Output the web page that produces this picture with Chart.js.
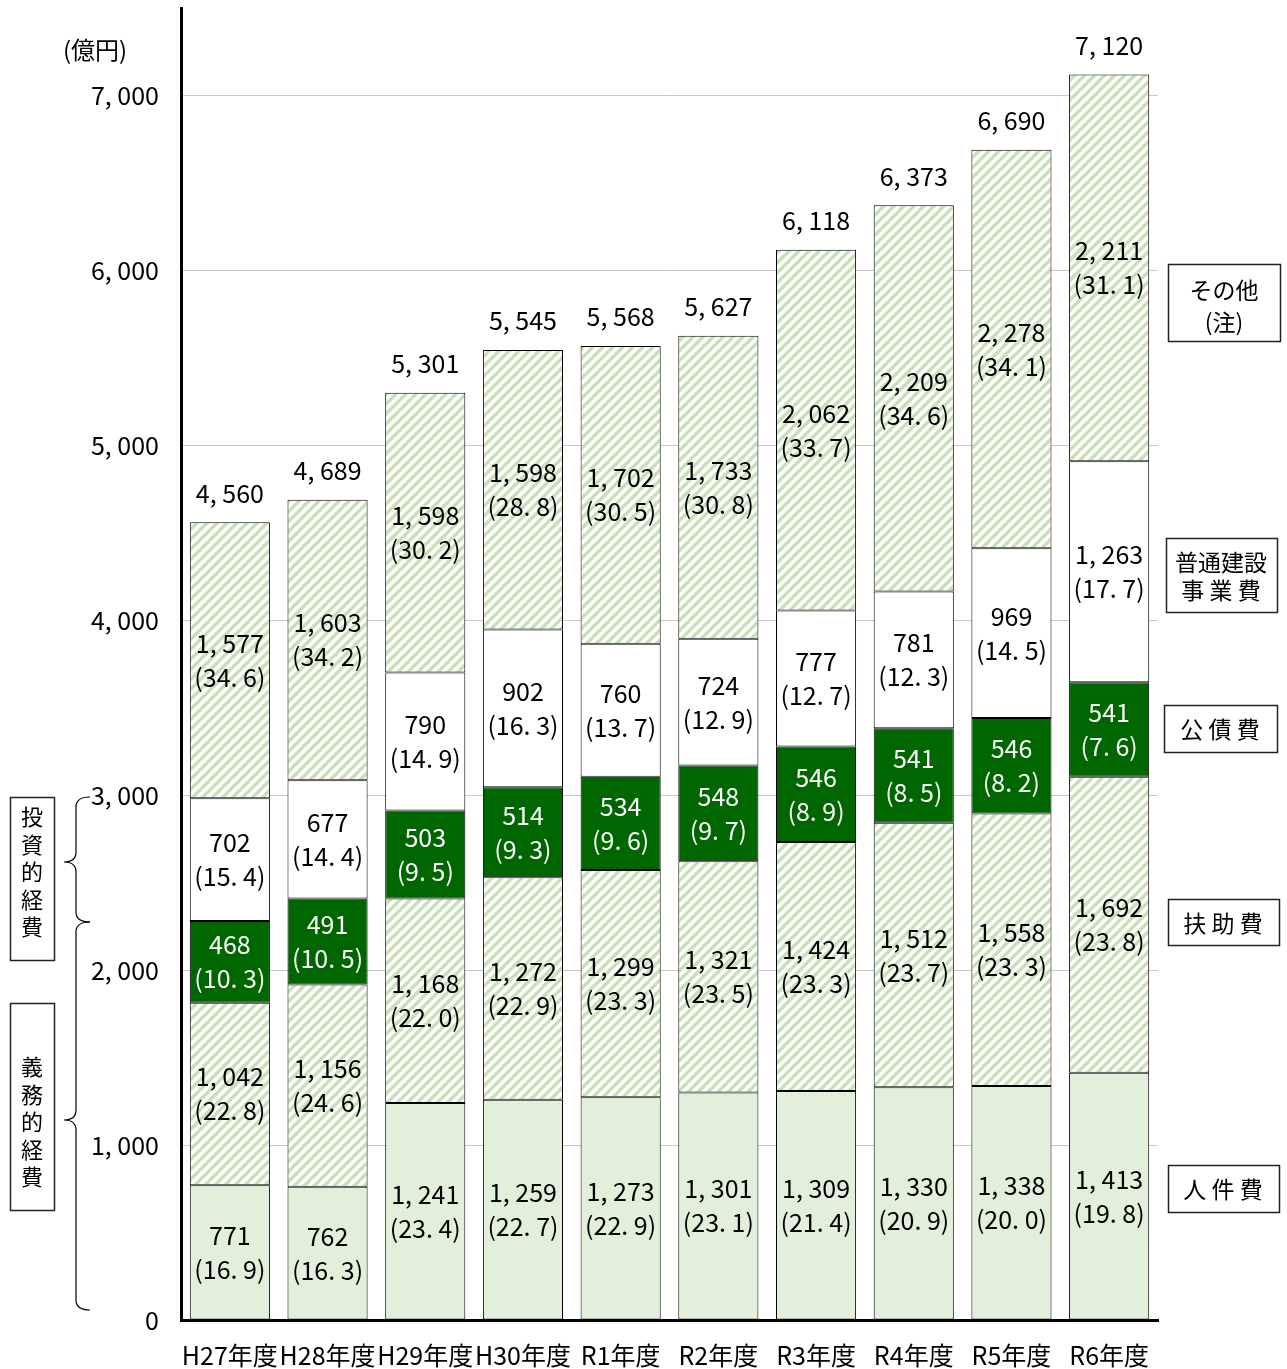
<!DOCTYPE html>
<html>
<head>
<meta charset="utf-8">
<script src="https://cdn.jsdelivr.net/npm/chart.js@4.4.1/dist/chart.umd.min.js"></script>
<style>
html,body{margin:0;padding:0;background:#fff;}
#wrap{width:1287px;height:1369px;position:relative;}
</style>
</head>
<body>
<div id="wrap"><canvas id="c" width="1287" height="1369"></canvas></div>
<script>
const categories = ['H27年度','H28年度','H29年度','H30年度','R1年度','R2年度','R3年度','R4年度','R5年度','R6年度'];
const personnel = [771, 762, 1241, 1259, 1273, 1301, 1309, 1330, 1338, 1413];
const assistance = [1042, 1156, 1168, 1272, 1299, 1321, 1424, 1512, 1558, 1692];
const debt = [468, 491, 503, 514, 534, 548, 546, 541, 546, 541];
const construction = [702, 677, 790, 902, 760, 724, 777, 781, 969, 1263];
const other = [1577, 1603, 1598, 1598, 1702, 1733, 2062, 2209, 2278, 2211];
const personnelPct = [16.9, 16.3, 23.4, 22.7, 22.9, 23.1, 21.4, 20.9, 20.0, 19.8];
const assistancePct = [22.8, 24.6, 22.0, 22.9, 23.3, 23.5, 23.3, 23.7, 23.3, 23.8];
const debtPct = [10.3, 10.5, 9.5, 9.3, 9.6, 9.7, 8.9, 8.5, 8.2, 7.6];
const constructionPct = [15.4, 14.4, 14.9, 16.3, 13.7, 12.9, 12.7, 12.3, 14.5, 17.7];
const otherPct = [34.6, 34.2, 30.2, 28.8, 30.5, 30.8, 33.7, 34.6, 34.1, 31.1];
const totals = [4560, 4689, 5301, 5545, 5568, 5627, 6118, 6373, 6690, 7120];
const seriesNames = ['人件費','扶助費','公債費','普通建設事業費','その他'];
const yTickStep = 1000;

const FONT = '"Noto Sans CJK JP", "Noto Sans", sans-serif';

function hatch() {
  const s = 10;
  const p = document.createElement('canvas');
  p.width = s; p.height = s;
  const g = p.getContext('2d');
  g.fillStyle = '#ffffff';
  g.fillRect(0, 0, s, s);
  g.strokeStyle = '#c6e2b4';
  g.lineWidth = 3.4;
  g.beginPath();
  g.moveTo(0, s); g.lineTo(s, 0);
  g.moveTo(-s/2, s/2); g.lineTo(s/2, -s/2);
  g.moveTo(s/2, s*1.5); g.lineTo(s*1.5, s/2);
  g.stroke();
  return g.createPattern(p, 'repeat');
}
const ctx0 = document.getElementById('c').getContext('2d');
const hatchPattern = hatch();

function fmt(v) { return v.toLocaleString('en-US').replace(/,/g, ', '); }
function fmtPct(p) { return '(' + p.toFixed(1).replace('.', '. ') + ')'; }

const pctArrays = [personnelPct, assistancePct, debtPct, constructionPct, otherPct];

const labelPlugin = {
  id: 'segLabels',
  afterDatasetsDraw(chart) {
    const ctx = chart.ctx;
    ctx.save();
    ctx.textAlign = 'center';
    ctx.textBaseline = 'middle';
    ctx.font = '25px ' + FONT;
    chart.data.datasets.forEach((ds, i) => {
      const meta = chart.getDatasetMeta(i);
      meta.data.forEach((el, j) => {
        const p = el.getProps(['x', 'y', 'base'], true);
        const cy = (p.y + p.base) / 2;
        ctx.fillStyle = i === 2 ? '#ffffff' : '#000000';
        ctx.fillText(fmt(ds.data[j]), p.x, cy - 17);
        ctx.fillText(fmtPct(pctArrays[i][j]), p.x, cy + 17);
      });
    });
    const topMeta = chart.getDatasetMeta(chart.data.datasets.length - 1);
    ctx.fillStyle = '#000';
    topMeta.data.forEach((el, j) => {
      const p = el.getProps(['x', 'y'], true);
      ctx.fillText(fmt(totals[j]), p.x, p.y - 29);
    });
    ctx.restore();
  }
};

function box(ctx, x1, y1, x2, y2) {
  ctx.strokeRect(x1 + 0.5, y1 + 0.5, x2 - x1, y2 - y1);
}
function brace(ctx, x, yTop, yMid, yBot) {
  const xr = x + 14, xl = x - 12, r = 10;
  ctx.beginPath();
  ctx.moveTo(xr, yTop);
  ctx.quadraticCurveTo(x, yTop, x, yTop + r);
  ctx.lineTo(x, yMid - r);
  ctx.quadraticCurveTo(x, yMid, xl, yMid);
  ctx.quadraticCurveTo(x, yMid, x, yMid + r);
  ctx.lineTo(x, yBot - r);
  ctx.quadraticCurveTo(x, yBot, xr, yBot);
  ctx.stroke();
}

const decoPlugin = {
  id: 'deco',
  afterDraw(chart) {
    const ctx = chart.ctx;
    ctx.save();
    ctx.fillStyle = '#000';
    ctx.strokeStyle = '#222';
    ctx.lineWidth = 1.5;
    ctx.textAlign = 'center';
    ctx.textBaseline = 'middle';
    ctx.font = '24px ' + FONT;
    ctx.fillText('(億円)', 95, 50);
    ctx.font = '23px ' + FONT;

    box(ctx, 1168, 264, 1280, 341);
    ctx.fillText('その他', 1224, 290);
    ctx.fillText('(注)', 1224, 322);
    box(ctx, 1166, 538, 1277, 612);
    ctx.fillText('普通建設', 1221, 562);
    ctx.fillText('事 業 費', 1221, 590);
    box(ctx, 1164, 705, 1277, 752);
    ctx.fillText('公 債 費', 1220, 729);
    box(ctx, 1168, 899, 1279, 945);
    ctx.fillText('扶 助 費', 1223, 923);
    box(ctx, 1168, 1165, 1279, 1212);
    ctx.fillText('人 件 費', 1223, 1189);

    ctx.font = '22px ' + FONT;
    box(ctx, 10, 797, 54, 960);
    '投資的経費'.split('').forEach((ch, k) => ctx.fillText(ch, 32, 817 + k * 27.5));
    box(ctx, 10, 1003, 54, 1210);
    '義務的経費'.split('').forEach((ch, k) => ctx.fillText(ch, 32, 1067 + k * 27.5));

    ctx.strokeStyle = '#000';
    ctx.lineWidth = 1.2;
    brace(ctx, 76, 797, 862, 922);
    brace(ctx, 76, 922, 1120, 1310);
    ctx.restore();
  }
};

const common = { borderColor: '#000', borderWidth: 1, borderSkipped: false, barPercentage: 0.82, categoryPercentage: 1.0 };

new Chart(ctx0, {
  type: 'bar',
  data: {
    labels: categories,
    datasets: [
      Object.assign({ label: seriesNames[0], data: personnel, backgroundColor: '#e2efda' }, common),
      Object.assign({ label: seriesNames[1], data: assistance, backgroundColor: hatchPattern }, common),
      Object.assign({ label: seriesNames[2], data: debt, backgroundColor: '#006600' }, common),
      Object.assign({ label: seriesNames[3], data: construction, backgroundColor: '#ffffff' }, common),
      Object.assign({ label: seriesNames[4], data: other, backgroundColor: hatchPattern }, common)
    ]
  },
  options: {
    responsive: false,
    animation: false,
    events: [],
    layout: { padding: { left: 0, right: 129, top: 8, bottom: 0 } },
    plugins: { legend: { display: false }, tooltip: { enabled: false }, title: { display: false } },
    scales: {
      x: {
        stacked: true,
        grid: { display: false, drawTicks: false },
        border: { display: true, color: '#000', width: 3 },
        ticks: { color: '#000', font: { family: FONT, size: 25 }, padding: 20, maxRotation: 0, autoSkip: false },
        afterFit(scale) { scale.height = 49; scale.paddingLeft = 0; scale.paddingRight = 0; }
      },
      y: {
        stacked: true,
        min: 0,
        max: 7500,
        grid: {
          drawTicks: false,
          color: (c) => (c.tick && c.tick.value % yTickStep === 0 && c.tick.value > 0) ? '#c8c8c8' : 'rgba(0,0,0,0)',
          lineWidth: 1
        },
        border: { display: true, color: '#000', width: 3 },
        ticks: {
          stepSize: 500,
          color: '#000',
          padding: 22,
          font: { family: FONT, size: 25 },
          callback: (v) => (v % yTickStep === 0 ? fmt(v) : '')
        },
        afterFit(scale) { scale.width = 181; scale.paddingTop = 0; scale.paddingBottom = 0; }
      }
    }
  },
  plugins: [labelPlugin, decoPlugin]
});
</script>
</body>
</html>
